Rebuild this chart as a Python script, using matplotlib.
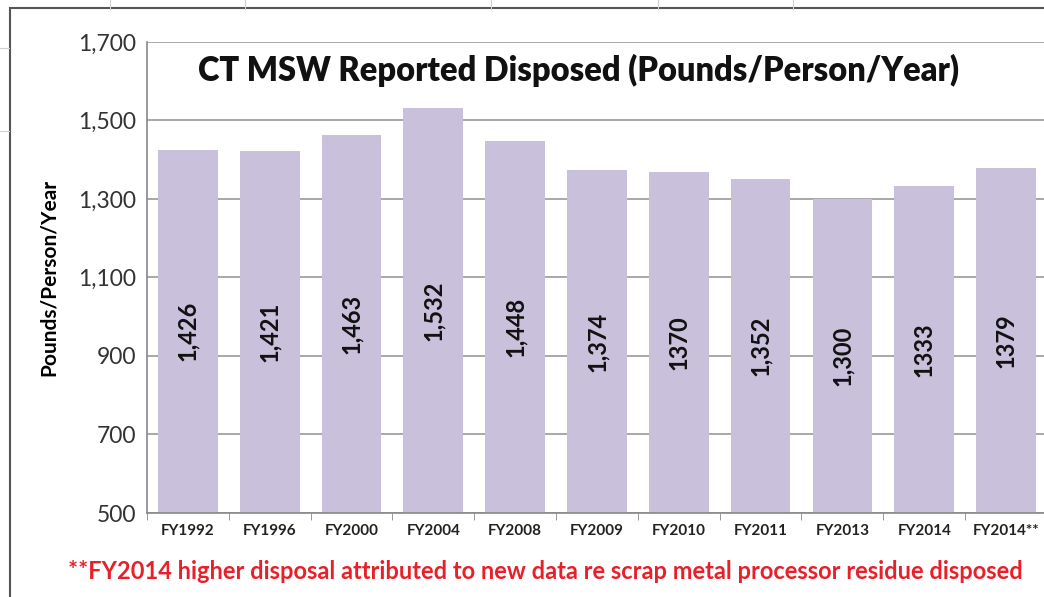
import matplotlib.pyplot as plt
from matplotlib.patches import Rectangle
from matplotlib.lines import Line2D

# data
years = ["FY1992", "FY1996", "FY2000", "FY2004", "FY2008", "FY2009",
         "FY2010", "FY2011", "FY2013", "FY2014", "FY2014**"]
lbs_per_person = [1426, 1421, 1463, 1532, 1448, 1374, 1370, 1352, 1300, 1333, 1379]
bar_labels = ["1,426", "1,421", "1,463", "1,532", "1,448", "1,374",
              "1370", "1,352", "1,300", "1333", "1379"]
y_ticks = [500, 700, 900, 1100, 1300, 1500, 1700]

plt.rcParams['font.family'] = ['Lato', 'DejaVu Sans']

fig = plt.figure(figsize=(10.44, 5.97), dpi=100)

# spreadsheet cell lines behind the chart
for x in [0.105, 0.235, 0.47, 0.63, 0.76]:
    fig.add_artist(Line2D([x, x], [0.985, 1.0], color='#d0d0d0', lw=0.8))
for y in [0.92, 0.78]:
    fig.add_artist(Line2D([0.0, 0.009], [y, y], color='#d0d0d0', lw=0.8))

# chart area border
fig.add_artist(Rectangle((0.0095, -0.01), 1.0, 0.997, transform=fig.transFigure,
                         fill=False, edgecolor='#555555', lw=1.5))

ax = fig.add_axes([0.1408, 0.1407, 0.862, 0.789])
x = list(range(len(years)))
ax.bar(x, [v - 500 for v in lbs_per_person], bottom=500, width=0.73,
       color='#c9c0dc', zorder=2)

for i, v in enumerate(lbs_per_person):
    ax.text(i, (500 + v) / 2, bar_labels[i], rotation=90, ha='center', va='center',
            fontsize=17, fontweight='bold', color='#111111', zorder=3)

ax.set_xlim(-0.5, len(years) - 0.5)
ax.set_ylim(500, 1700)
ax.set_yticks(y_ticks)
ax.set_yticklabels([f"{t:,}" for t in y_ticks], fontsize=16.5, color='#333333')
ax.yaxis.grid(True, color='#9a9a9a', lw=1.2, zorder=0)
ax.tick_params(axis='y', length=0, pad=8)

ax.set_xticks(x)
ax.set_xticklabels(years, fontsize=11, fontweight='bold', color='#222222')
ax.tick_params(axis='x', which='major', length=0, pad=8)
ax.set_xticks([i - 0.5 for i in range(len(years) + 1)], minor=True)
ax.tick_params(axis='x', which='minor', length=5, color='#888888')

for s in ['top', 'right']:
    ax.spines[s].set_visible(False)
ax.spines['left'].set_color('#888888')
ax.spines['bottom'].set_color('#888888')
ax.spines['left'].set_linewidth(1.2)
ax.spines['bottom'].set_linewidth(1.2)

ax.set_ylabel("Pounds/Person/Year", fontsize=15, fontweight='bold', labelpad=14)

ax.text(0.48, 0.94, "CT MSW Reported Disposed (Pounds/Person/Year)",
        transform=ax.transAxes, ha='center', va='center', fontsize=23.5,
        fontweight='heavy', color='#111111')

fig.text(0.522, 0.042, "**FY2014 higher disposal attributed to new data re scrap metal processor residue disposed",
         ha='center', va='center', fontsize=17, fontweight='bold', color='#e8202a')

fig.savefig("out.png", dpi=100)
